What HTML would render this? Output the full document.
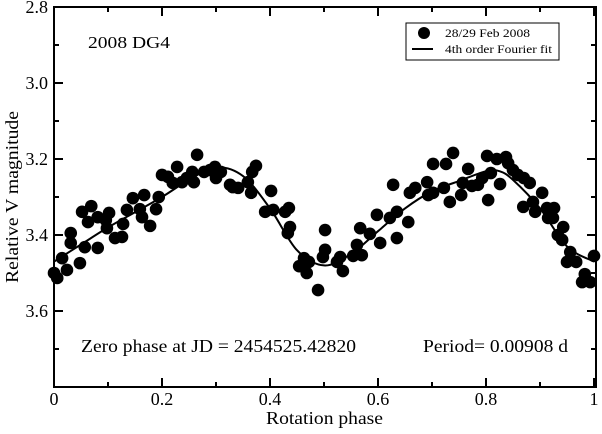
<!DOCTYPE html>
<html><head><meta charset="utf-8"><style>
body{margin:0;background:#fff}
svg text{font-family:"Liberation Serif",serif;fill:#000}
</style></head><body>
<svg id="chart" width="602" height="429" viewBox="0 0 602 429" xmlns="http://www.w3.org/2000/svg">
<g id="marks"></g>
<g id="axes"></g>
<text x="88" y="48" font-size="17" textLength="82" lengthAdjust="spacingAndGlyphs">2008 DG4</text>
<text x="81" y="352" font-size="18" textLength="275" lengthAdjust="spacingAndGlyphs">Zero phase at JD = 2454525.42820</text>
<text x="423" y="352" font-size="18" textLength="145" lengthAdjust="spacingAndGlyphs">Period= 0.00908 d</text>
<text x="266" y="424" font-size="18" textLength="117" lengthAdjust="spacingAndGlyphs">Rotation phase</text>
<text transform="translate(18,283) rotate(-90)" font-size="18" textLength="172" lengthAdjust="spacingAndGlyphs">Relative V magnitude</text>
<g>
<rect x="406" y="23" width="153" height="37" fill="#fff" stroke="#000" stroke-width="1"/>
<circle cx="424" cy="33" r="6" fill="#000"/>
<text x="445" y="37" font-size="12" textLength="85" lengthAdjust="spacingAndGlyphs">28/29 Feb 2008</text>
<line x1="412" y1="49" x2="433" y2="49" stroke="#000" stroke-width="2"/>
<text x="445" y="53" font-size="12" textLength="107" lengthAdjust="spacingAndGlyphs">4th order Fourier fit</text>
</g>
</svg>
<script>
const phases=[0.0,0.006,0.015,0.024,0.031,0.031,0.048,0.052,0.057,0.063,0.069,0.081,0.081,0.096,0.098,0.102,0.113,0.126,0.128,0.135,0.146,0.159,0.163,0.167,0.178,0.189,0.194,0.2,0.211,0.220,0.228,0.237,0.246,0.256,0.259,0.265,0.278,0.289,0.298,0.300,0.309,0.326,0.331,0.341,0.359,0.365,0.367,0.374,0.391,0.402,0.406,0.428,0.435,0.433,0.437,0.454,0.463,0.472,0.468,0.489,0.498,0.502,0.502,0.524,0.530,0.535,0.554,0.561,0.567,0.570,0.585,0.598,0.604,0.622,0.628,0.635,0.635,0.656,0.659,0.669,0.691,0.693,0.702,0.702,0.722,0.726,0.733,0.739,0.754,0.757,0.767,0.774,0.785,0.793,0.802,0.804,0.809,0.820,0.826,0.837,0.841,0.850,0.859,0.869,0.870,0.881,0.887,0.891,0.904,0.913,0.915,0.924,0.926,0.933,0.941,0.943,0.950,0.956,0.967,0.978,0.983,0.993,1.0];
const mags=[3.500,3.513,3.461,3.492,3.395,3.421,3.474,3.339,3.432,3.366,3.324,3.434,3.353,3.361,3.382,3.342,3.408,3.405,3.371,3.334,3.303,3.332,3.353,3.295,3.376,3.332,3.300,3.242,3.247,3.263,3.221,3.261,3.250,3.234,3.261,3.189,3.234,3.229,3.221,3.250,3.234,3.268,3.274,3.276,3.261,3.289,3.234,3.218,3.339,3.284,3.334,3.339,3.329,3.395,3.379,3.482,3.461,3.471,3.500,3.545,3.458,3.387,3.439,3.471,3.458,3.495,3.455,3.426,3.382,3.453,3.397,3.347,3.421,3.355,3.268,3.408,3.339,3.366,3.289,3.276,3.261,3.295,3.213,3.289,3.276,3.213,3.313,3.184,3.295,3.263,3.226,3.271,3.268,3.250,3.192,3.308,3.237,3.200,3.266,3.195,3.211,3.229,3.242,3.326,3.250,3.263,3.313,3.339,3.289,3.329,3.355,3.355,3.329,3.400,3.413,3.379,3.471,3.445,3.471,3.524,3.503,3.524,3.455];
const fitPhases=[0,0.05,0.1,0.15,0.2,0.25,0.3,0.35,0.4,0.45,0.5,0.55,0.6,0.65,0.7,0.75,0.8,0.825,0.85,0.9,0.95,1.0];
const fitMags=[3.47,3.425,3.38,3.34,3.30,3.255,3.222,3.245,3.33,3.44,3.48,3.45,3.39,3.33,3.285,3.258,3.232,3.232,3.255,3.33,3.43,3.47];
const xTicks=["0","0.2","0.4","0.6","0.8","1"];
const yTicks=["2.8","3.0","3.2","3.4","3.6"];
const X0=54,X1=594,Y0=7,Y1=387;
const xs=p=>X0+(X1-X0)*p;
const ys=m=>Y0+(m-2.8)/1.0*(Y1-Y0);
const NS="http://www.w3.org/2000/svg";
const marks=document.getElementById('marks'),axes=document.getElementById('axes');
function mk(t,a,parent){const e=document.createElementNS(NS,t);for(const k in a)e.setAttribute(k,a[k]);parent.appendChild(e);return e;}
const pts=fitPhases.map((p,i)=>[xs(p),ys(fitMags[i])]);
let d=`M${pts[0][0]},${pts[0][1]}`;
for(let i=0;i<pts.length-1;i++){const p0=pts[Math.max(0,i-1)],p1=pts[i],p2=pts[i+1],p3=pts[Math.min(pts.length-1,i+2)];
d+=` C${p1[0]+(p2[0]-p0[0])/6},${p1[1]+(p2[1]-p0[1])/6} ${p2[0]-(p3[0]-p1[0])/6},${p2[1]-(p3[1]-p1[1])/6} ${p2[0]},${p2[1]}`;}
const fit=mk('path',{d:d,fill:'none',stroke:'#000','stroke-width':2},marks);


phases.forEach((p,i)=>{const c=mk('circle',{cx:xs(p),cy:ys(mags[i]),r:6.3,fill:'#000'},marks);

});
const fr=mk('rect',{x:X0,y:Y0,width:X1-X0+2,height:Y1-Y0,fill:'none',stroke:'#000','stroke-width':2},axes);


const XR=X1+2;
for(let i=0;i<=10;i++){const x=xs(i/10),L=i%2?5:9;
mk('line',{x1:x,y1:Y1,x2:x,y2:Y1-L,stroke:'#000','stroke-width':2},axes);
mk('line',{x1:x,y1:Y0,x2:x,y2:Y0+L,stroke:'#000','stroke-width':2},axes);}
for(let i=0;i<=10;i++){const y=ys(2.8+i*0.1),L=i%2?5:9;
mk('line',{x1:X0,y1:y,x2:X0+L,y2:y,stroke:'#000','stroke-width':2},axes);
mk('line',{x1:XR,y1:y,x2:XR-L,y2:y,stroke:'#000','stroke-width':2},axes);}
xTicks.forEach((t,i)=>{const e=mk('text',{x:xs(i*0.2),y:405,'font-size':18,'text-anchor':'middle'},axes);e.textContent=t;

});
yTicks.forEach((t,i)=>{const e=mk('text',{x:48,y:ys(parseFloat(t))+6,'font-size':18,'text-anchor':'end'},axes);e.textContent=t;

});
</script>
</body></html>
